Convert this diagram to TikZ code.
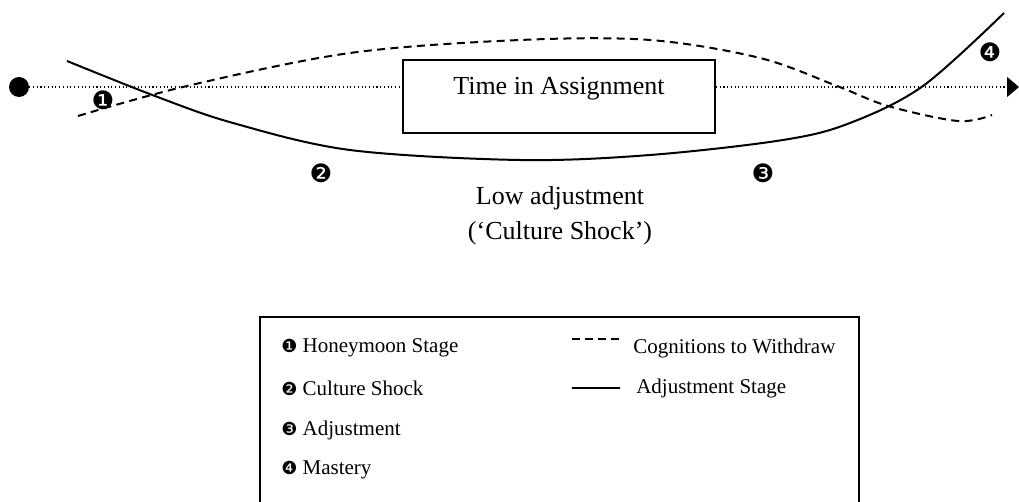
\documentclass[tikz,border=0pt]{standalone}
\usepackage{fontspec}
\setmainfont{Liberation Serif}
\newfontfamily\dingfont{DejaVu Sans}
\usetikzlibrary{arrows.meta, positioning}

\begin{document}
\begin{tikzpicture}[
    x=0.75pt, y=-0.75pt,
    stage/.style={line width=1.5pt},
    withdraw/.style={line width=1.5pt, dash pattern=on 6pt off 4pt},
    timeline/.style={dotted, line width=0.8pt},
    frame/.style={draw, line width=1.5pt, inner sep=0pt},
    marker/.style={font=\dingfont\fontsize{19}{19}\selectfont, inner sep=0pt},
    legend/.style={anchor=west, inner sep=0pt, font=\fontsize{15.75}{18}\selectfont}
]

\useasboundingbox (0,0) rectangle (1019,502);

\node[fill, circle, minimum size=15pt, inner sep=0pt] (start) at (19,87) {};
\coordinate (end) at (1019,87);

\node[frame, minimum width=234pt, minimum height=54.75pt] (box) at (559,96.5) {};
\node[font=\fontsize{19.5}{23}\selectfont] (timelabel) at (559,89) {Time in Assignment};

\draw[timeline] (start) -- (box.west |- start);
\draw[timeline, -{Triangle[length=9pt, width=15pt]}] (box.east |- end) -- (end);

% adjustment stage
\draw[stage] plot[smooth, tension=0.55] coordinates
    {(67,61) (155,96) (233,123) (350,150) (520,160) (650,155) (783,140) (850,123) (923,86) (1004,13)};

% cognitions to withdraw
\draw[withdraw] plot[smooth, tension=0.55] coordinates
    {(78,116) (187,86) (350,53) (520,40) (650,40) (760,58) (837,86) (888,106) (958,121) (992,115)};

\node[marker] (m1) at (103,100) {❶};
\node[marker] (m2) at (321,173) {❷};
\node[marker] (m3) at (763,173) {❸};
\node[marker] (m4) at (990,52)  {❹};

\node[font=\fontsize{19.5}{26}\selectfont, align=center] (low) at (560,216)
{Low adjustment\\(‘Culture Shock’)};

% legend, its lower edge lies below the page
\draw[frame] (260,510) |- (859,317) -- (859,510);

\node[legend] (l1) at (281,348) {{\dingfont\fontsize{13.5}{13.5}\selectfont ❶} Honeymoon Stage};
\node[legend] (l2) at (281,388) {{\dingfont\fontsize{13.5}{13.5}\selectfont ❷} Culture Shock};
\node[legend] (l3) at (281,430) {{\dingfont\fontsize{13.5}{13.5}\selectfont ❸} Adjustment};
\node[legend] (l4) at (281,470) {{\dingfont\fontsize{13.5}{13.5}\selectfont ❹} Mastery};

\draw[withdraw, dash pattern=on 6pt off 3.75pt] (572,339) -- (620,339);
\draw[stage] (572,388) -- (620,388);
\node[legend] (l5) at (633,348) {Cognitions to Withdraw};
\node[legend] (l6) at (636,388) {Adjustment Stage};

\end{tikzpicture}
\end{document}
